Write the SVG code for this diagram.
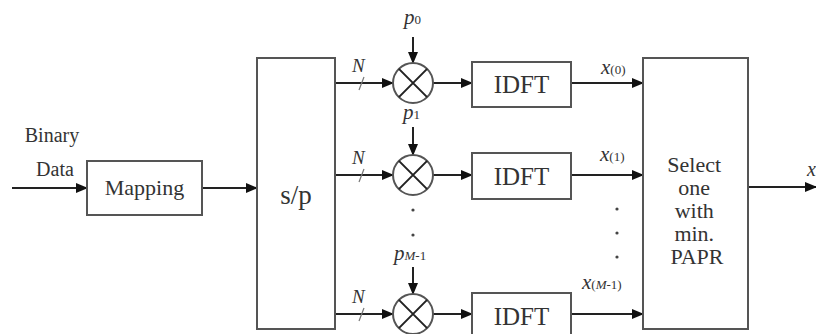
<svg xmlns="http://www.w3.org/2000/svg" width="816" height="334" viewBox="0 0 816 334" font-family="'Liberation Serif', 'DejaVu Serif', serif">
<defs>
<marker id="ah" markerWidth="12" markerHeight="10" refX="11" refY="5" orient="auto" markerUnits="userSpaceOnUse">
<path d="M0,0 L12,5 L0,10 Z" fill="#111"/>
</marker>
<style>
.box{fill:#fff;stroke:#555;stroke-width:2}
.ln{stroke:#222;stroke-width:2;fill:none}
.t{font-family:'Liberation Serif','DejaVu Serif',serif;fill:#333}
.i{font-style:italic}
.mx{fill:#fff;stroke:#555;stroke-width:2}
.dot{fill:#444}
</style>
</defs>
<rect width="816" height="334" fill="#fff"/>

<g id="connectors">
<line class="ln" x1="12" y1="188" x2="87" y2="188" marker-end="url(#ah)"/>
<line class="ln" x1="202" y1="188" x2="257" y2="188" marker-end="url(#ah)"/>
<line class="ln" x1="335" y1="83" x2="393" y2="83" marker-end="url(#ah)"/>
<line class="ln" x1="335" y1="175" x2="393" y2="175" marker-end="url(#ah)"/>
<line class="ln" x1="335" y1="314" x2="393" y2="314" marker-end="url(#ah)"/>
<line class="ln" x1="413" y1="37" x2="413" y2="63" marker-end="url(#ah)"/>
<line class="ln" x1="413" y1="127" x2="413" y2="155" marker-end="url(#ah)"/>
<line class="ln" x1="413" y1="267" x2="413" y2="294" marker-end="url(#ah)"/>
<line class="ln" x1="433" y1="83" x2="472" y2="83" marker-end="url(#ah)"/>
<line class="ln" x1="433" y1="175" x2="472" y2="175" marker-end="url(#ah)"/>
<line class="ln" x1="433" y1="314" x2="472" y2="314" marker-end="url(#ah)"/>
<line class="ln" x1="571" y1="83" x2="643" y2="83" marker-end="url(#ah)"/>
<line class="ln" x1="571" y1="175" x2="643" y2="175" marker-end="url(#ah)"/>
<line class="ln" x1="571" y1="314" x2="643" y2="314" marker-end="url(#ah)"/>
<line class="ln" x1="748" y1="187" x2="816" y2="187" marker-end="url(#ah)"/>
<g stroke="#777" stroke-width="1.2">
<line x1="359" y1="90" x2="364" y2="77"/>
<line x1="359" y1="182" x2="364" y2="169"/>
<line x1="359" y1="321" x2="364" y2="308"/>
</g>
</g>

<g id="mapping">
<rect class="box" x="87" y="161" width="115" height="54"/>
<text class="t" x="144.5" y="195" font-size="22" text-anchor="middle">Mapping</text>
</g>

<g id="input-label">
<text class="t" x="52" y="142" font-size="20" text-anchor="middle">Binary</text>
<text class="t" x="55" y="176" font-size="20" text-anchor="middle">Data</text>
</g>

<g id="sp">
<rect class="box" x="257" y="58" width="78" height="271"/>
<text class="t" x="296" y="204" font-size="27" text-anchor="middle">s/p</text>
</g>

<g id="mult0">
<circle class="mx" cx="413" cy="83" r="20"/>
<path class="ln" stroke="#555" d="M398.9,68.9 L427.1,97.1 M427.1,68.9 L398.9,97.1"/>
</g>
<g id="mult1">
<circle class="mx" cx="413" cy="175" r="20"/>
<path class="ln" stroke="#555" d="M398.9,160.9 L427.1,189.1 M427.1,160.9 L398.9,189.1"/>
</g>
<g id="multM">
<circle class="mx" cx="413" cy="314" r="20"/>
<path class="ln" stroke="#555" d="M398.9,299.9 L427.1,328.1 M427.1,299.9 L398.9,328.1"/>
</g>

<g id="phase-labels">
<text class="t" x="404" y="24" font-size="21"><tspan class="i">p</tspan><tspan font-size="13">0</tspan></text>
<text class="t" x="403" y="119" font-size="21"><tspan class="i">p</tspan><tspan font-size="13">1</tspan></text>
<text class="t" x="394" y="260" font-size="21"><tspan class="i">p</tspan><tspan font-size="13"><tspan class="i">M</tspan>-1</tspan></text>
<text class="t i" x="352" y="72" font-size="19">N</text>
<text class="t i" x="352" y="164" font-size="19">N</text>
<text class="t i" x="352" y="303" font-size="19">N</text>
<circle class="dot" cx="413" cy="210" r="1.6"/>
<circle class="dot" cx="413" cy="235" r="1.6"/>
</g>

<g id="idft0">
<rect class="box" x="472" y="62" width="99" height="45"/>
<text class="t" x="521.5" y="93" font-size="25" text-anchor="middle">IDFT</text>
</g>
<g id="idft1">
<rect class="box" x="472" y="153" width="99" height="46"/>
<text class="t" x="521.5" y="185" font-size="25" text-anchor="middle">IDFT</text>
</g>
<g id="idftM">
<rect class="box" x="472" y="293" width="99" height="46"/>
<text class="t" x="521.5" y="325" font-size="25" text-anchor="middle">IDFT</text>
</g>

<g id="x-labels">
<text class="t" x="601" y="74" font-size="21"><tspan class="i">x</tspan><tspan font-size="13">(0)</tspan></text>
<text class="t" x="600" y="161" font-size="21"><tspan class="i">x</tspan><tspan font-size="13">(1)</tspan></text>
<text class="t" x="582" y="289" font-size="21"><tspan class="i">x</tspan><tspan font-size="13">(<tspan class="i">M</tspan>-1)</tspan></text>
<circle class="dot" cx="617" cy="209" r="1.6"/>
<circle class="dot" cx="617" cy="233" r="1.6"/>
<circle class="dot" cx="617" cy="257" r="1.6"/>
</g>

<g id="select">
<rect class="box" x="643" y="58" width="105" height="271"/>
<text class="t" font-size="22" text-anchor="middle">
<tspan x="697" y="172">Select</tspan>
<tspan x="697" y="195">one</tspan>
<tspan x="697" y="218">with</tspan>
<tspan x="697" y="241">min.</tspan>
<tspan x="697" y="264">PAPR</tspan>
</text>
</g>

<g id="output-label">
<text class="t i" x="807" y="176" font-size="20">x</text>
</g>
</svg>
